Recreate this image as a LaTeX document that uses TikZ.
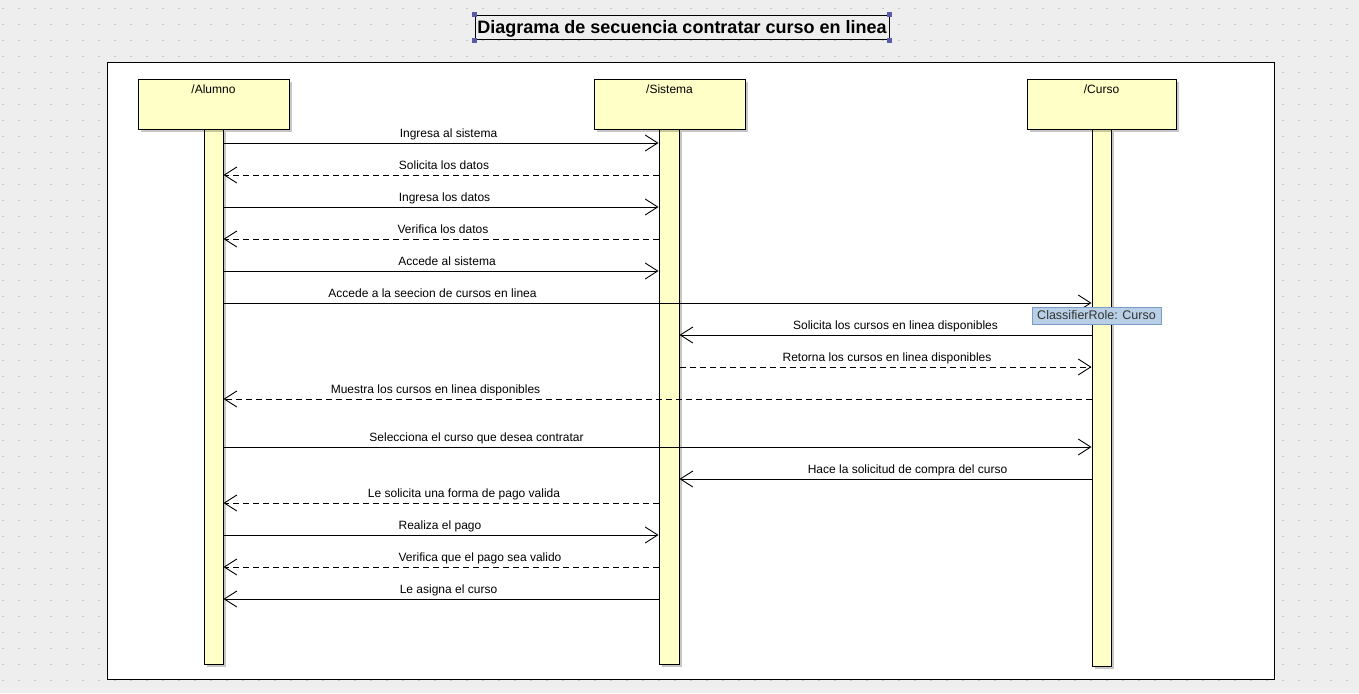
\documentclass[tikz,border=0pt]{standalone}
\usepackage{fontspec}
\setmainfont{Liberation Sans}
\usetikzlibrary{arrows.meta,shadows}
\definecolor{bgc}{HTML}{EEEEEE}
\definecolor{lifey}{HTML}{FFFFC8}
\definecolor{dotc}{HTML}{C6C6C6}
\definecolor{tipfill}{HTML}{B8CFE5}
\definecolor{tipdraw}{HTML}{7A9CC8}
\definecolor{tiptext}{HTML}{333333}
\definecolor{handlec}{HTML}{5A5AAA}
\begin{document}
\begin{tikzpicture}[x=1pt,y=-1pt,
  lifeshadow/.style={drop shadow={shadow xshift=2.5pt,shadow yshift=-2.5pt,fill=black,opacity=0.22}},
  headbox/.style={draw,line width=1pt,fill=lifey,inner sep=0pt,lifeshadow},
  barbox/.style={draw,line width=1pt,fill=lifey,inner sep=0pt,lifeshadow},
  headtxt/.style={anchor=base,inner sep=0pt,font=\fontsize{12}{14}\selectfont},
  lbl/.style={anchor=base,inner sep=0pt,font=\fontsize{12}{14}\selectfont},
  msgline/.style={line width=0.9pt,-{Straight Barb[length=12.5pt,width=16pt]}},
  callmsg/.style={msgline},
  retmsg/.style={msgline,dash pattern=on 6pt off 4pt},
  handlebox/.style={fill=handlec,minimum size=5pt,inner sep=0pt}
]
\useasboundingbox (0,0) rectangle (1359,693);
\fill[bgc] (0,0) rectangle (1359,693);
\foreach \i in {0,...,84}{
  \foreach \j in {0,...,43}{
    \fill[dotc] ({2.25+16*\i},{7.75+16*\j}) rectangle ++(1.5,1.5);
  }
}
% title
\node[draw,line width=0.9pt,fill=bgc,minimum width=414pt,minimum height=24.5pt,inner sep=0pt] (title) at (682,27.5) {};
\node[anchor=base,inner sep=0pt,font=\fontsize{18}{21}\bfseries] (titletxt) at (682,34) {Diagrama de secuencia contratar curso en linea};
\node[handlebox] (h1) at (title.north west) {};
\node[handlebox] (h2) at (title.north east) {};
\node[handlebox] (h3) at (title.south west) {};
\node[handlebox] (h4) at (title.south east) {};
% frame
\node[draw,line width=1pt,fill=white,minimum width=1167pt,minimum height=616pt,inner sep=0pt] (frame) at (690.5,371) {};
% activation bars
\node[barbox,minimum width=19pt,minimum height=535pt] (aBar) at (213.5,396.5) {};
\node[barbox,minimum width=20pt,minimum height=535pt] (sBar) at (669,396.5) {};
\node[barbox,minimum width=19pt,minimum height=537pt] (cBar) at (1101.5,397.5) {};
% heads
\node[headbox,minimum width=151pt,minimum height=50pt] (aHead) at (213.5,104) {};
\node[headbox,minimum width=151pt,minimum height=50pt] (sHead) at (669.5,104) {};
\node[headbox,minimum width=149pt,minimum height=50pt] (cHead) at (1101.5,104) {};
\node[headtxt] (aName) at (213.5,93) {/Alumno};
\node[headtxt] (sName) at (669.5,93) {/Sistema};
\node[headtxt] (cName) at (1101.5,93) {/Curso};
% messages
\draw[callmsg] (aBar.east |- 0,143) -- (sBar.west |- 0,143);
\node[lbl] (m1) at (448.5,137.5) {Ingresa al sistema};
\draw[retmsg] (sBar.west |- 0,175) -- (aBar.east |- 0,175);
\node[lbl] (m2) at (444,169.5) {Solicita los datos};
\draw[callmsg] (aBar.east |- 0,207) -- (sBar.west |- 0,207);
\node[lbl] (m3) at (444.5,201.5) {Ingresa los datos};
\draw[retmsg] (sBar.west |- 0,239) -- (aBar.east |- 0,239);
\node[lbl] (m4) at (443,233.5) {Verifica los datos};
\draw[callmsg] (aBar.east |- 0,271) -- (sBar.west |- 0,271);
\node[lbl] (m5) at (447,265.5) {Accede al sistema};
\draw[callmsg] (aBar.east |- 0,303) -- (cBar.west |- 0,303);
\node[lbl] (m6) at (432.5,297.5) {Accede a la seecion de cursos en linea};
\draw[callmsg] (cBar.west |- 0,335) -- (sBar.east |- 0,335);
\node[lbl] (m7) at (895.5,329.5) {Solicita los cursos en linea disponibles};
\draw[retmsg] (sBar.east |- 0,367) -- (cBar.west |- 0,367);
\node[lbl] (m8) at (887,361.5) {Retorna los cursos en linea disponibles};
\draw[retmsg] (cBar.west |- 0,399) -- (aBar.east |- 0,399);
\node[lbl] (m9) at (435.5,393.5) {Muestra los cursos en linea disponibles};
\draw[callmsg] (aBar.east |- 0,447) -- (cBar.west |- 0,447);
\node[lbl] (m10) at (476.5,441.5) {Selecciona el curso que desea contratar};
\draw[callmsg] (cBar.west |- 0,479) -- (sBar.east |- 0,479);
\node[lbl] (m11) at (907.5,473.5) {Hace la solicitud de compra del curso};
\draw[retmsg] (sBar.west |- 0,503) -- (aBar.east |- 0,503);
\node[lbl] (m12) at (464,497.5) {Le solicita una forma de pago valida};
\draw[callmsg] (aBar.east |- 0,535) -- (sBar.west |- 0,535);
\node[lbl] (m13) at (440,529.5) {Realiza el pago};
\draw[retmsg] (sBar.west |- 0,567) -- (aBar.east |- 0,567);
\node[lbl] (m14) at (480,561.5) {Verifica que el pago sea valido};
\draw[callmsg] (sBar.west |- 0,599) -- (aBar.east |- 0,599);
\node[lbl] (m15) at (448.5,593.5) {Le asigna el curso};
% tooltip
\node[draw=tipdraw,fill=tipfill,line width=0.8pt,minimum width=129pt,minimum height=17pt,inner sep=0pt,text=tiptext,font=\fontsize{12.5}{14}\selectfont] (tip) at (1096.5,315.5) {ClassifierRole: Curso};
\end{tikzpicture}
\end{document}
